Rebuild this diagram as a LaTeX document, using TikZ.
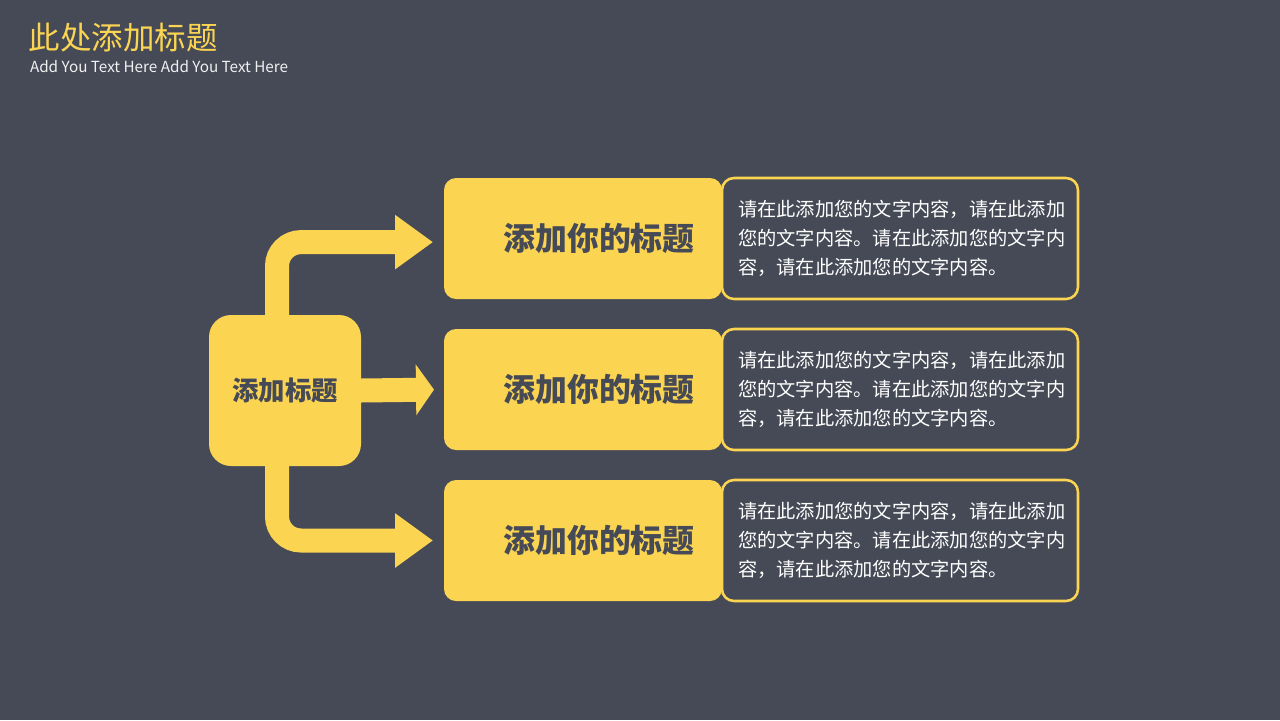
\documentclass[tikz,border=0pt]{standalone}
\usepackage{fontspec}
\setmainfont{Noto Sans CJK SC}
\usepackage{xcolor}
\definecolor{slate}{HTML}{464A56}
\definecolor{gold}{HTML}{FBD452}
\usetikzlibrary{arrows.meta, positioning}

\begin{document}
\begin{tikzpicture}[every node/.style={inner sep=0pt, outer sep=0pt}]
  \tikzset{
    headbox/.style={fill=gold, rounded corners=0.3cm, minimum width=6.95cm, minimum height=3.025cm, text=slate, font=\bfseries\fontsize{22.7}{27}\selectfont},
    descbox/.style={draw=gold, line width=1.8pt, fill=slate, rounded corners=0.3cm, text width=8.1cm, inner xsep=0.4cm, minimum height=3.025cm, text=white, align=left, font=\fontsize{13.7}{20.4}\selectfont},
    flow/.style={draw=gold, line width=0.6cm, rounded corners=0.6cm},
  }
  % background
  \fill[slate] (0,0) rectangle (32,-18);
  \useasboundingbox (0,0) rectangle (32,-18);

  % page title
  \node[anchor=west, text=gold, font=\fontsize{22.4}{26}\selectfont] (title) at (0.72,-0.95) {此处添加标题};
  \node[anchor=west, text=white!92!slate, font=\fontsize{10.85}{13}\selectfont] (subtitle) at (0.75,-1.675) {Add You Text Here Add You Text Here};

  % central box
  \node[fill=gold, rounded corners=0.55cm, minimum width=3.8cm, minimum height=3.775cm, text=slate, font=\bfseries\fontsize{18.8}{22}\selectfont] (hub) at (7.125,-9.7625) {添加标题};

  % heading boxes
  \node[headbox] (head1) at (14.575,-5.9625) {\hspace*{0.8cm}添加你的标题};
  \node[headbox, below=0.75cm of head1] (head2) {\hspace*{0.8cm}添加你的标题};
  \node[headbox, below=0.75cm of head2] (head3) {\hspace*{0.8cm}添加你的标题};

  % description boxes
  \node[descbox, right=0cm of head1] (desc1) {请在此添加您的文字内容，请在此添加\\您的文字内容。请在此添加您的文字内\\容，请在此添加您的文字内容。};
  \node[descbox, right=0cm of head2] (desc2) {请在此添加您的文字内容，请在此添加\\您的文字内容。请在此添加您的文字内\\容，请在此添加您的文字内容。};
  \node[descbox, right=0cm of head3] (desc3) {请在此添加您的文字内容，请在此添加\\您的文字内容。请在此添加您的文字内\\容，请在此添加您的文字内容。};

  % arrows from the central box
  \draw[flow, -{Triangle[length=0.95cm, width=1.3cm]}, shorten >=0.275cm] ([xshift=-0.2cm]hub.north) |- ([yshift=-0.09cm]head1.west);
  \draw[flow, -{Triangle[length=0.45cm, width=1.25cm]}, shorten >=0.25cm] (hub.east) -- (head2.west);
  \draw[flow, -{Triangle[length=0.95cm, width=1.3cm]}, shorten >=0.275cm] ([xshift=-0.2cm]hub.south) |- (head3.west);
\end{tikzpicture}
\end{document}
